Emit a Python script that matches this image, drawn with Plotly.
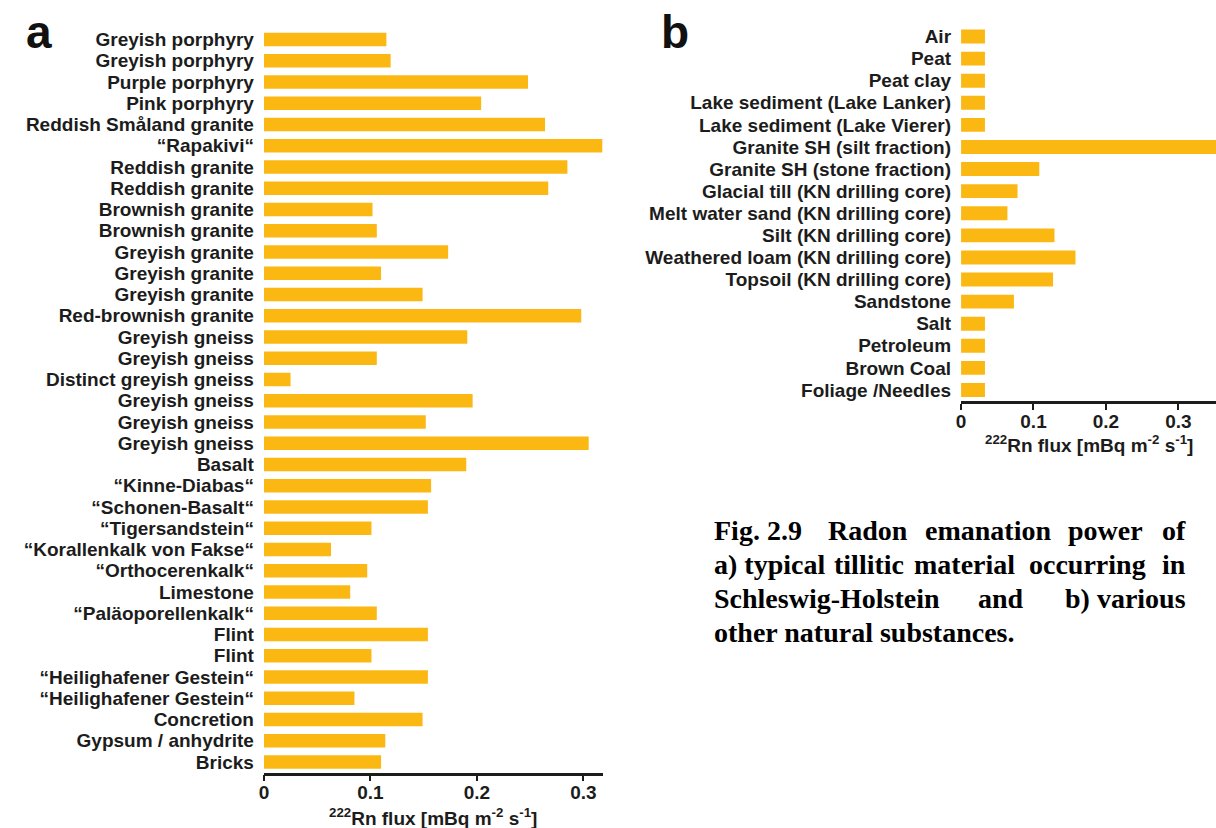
import plotly.graph_objects as go

# Panel a: tillitic rock samples (top to bottom)
rocks = [
    "Greyish porphyry", "Greyish porphyry", "Purple porphyry", "Pink porphyry",
    "Reddish Småland granite", "“Rapakivi“", "Reddish granite", "Reddish granite",
    "Brownish granite", "Brownish granite", "Greyish granite", "Greyish granite",
    "Greyish granite", "Red-brownish granite", "Greyish gneiss", "Greyish gneiss",
    "Distinct greyish gneiss", "Greyish gneiss", "Greyish gneiss", "Greyish gneiss",
    "Basalt", "“Kinne-Diabas“", "“Schonen-Basalt“", "“Tigersandstein“",
    "“Korallenkalk von Fakse“", "“Orthocerenkalk“", "Limestone", "“Paläoporellenkalk“",
    "Flint", "Flint", "“Heilighafener Gestein“", "“Heilighafener Gestein“",
    "Concretion", "Gypsum / anhydrite", "Bricks",
]
rock_flux = [
    0.115, 0.119, 0.248, 0.204, 0.264, 0.318, 0.285, 0.267,
    0.102, 0.106, 0.173, 0.110, 0.149, 0.298, 0.191, 0.106,
    0.025, 0.196, 0.152, 0.305, 0.190, 0.157, 0.154, 0.101,
    0.063, 0.097, 0.081, 0.106, 0.154, 0.101, 0.154, 0.085,
    0.149, 0.114, 0.110,
]

# Panel b: other natural substances (top to bottom)
substances = [
    "Air", "Peat", "Peat clay", "Lake sediment (Lake Lanker)",
    "Lake sediment (Lake Vierer)", "Granite SH (silt fraction)",
    "Granite SH (stone fraction)", "Glacial till (KN drilling core)",
    "Melt water sand (KN drilling core)", "Silt (KN drilling core)",
    "Weathered loam (KN drilling core)", "Topsoil (KN drilling core)",
    "Sandstone", "Salt", "Petroleum", "Brown Coal", "Foliage /Needles",
]
substance_flux = [
    0.033, 0.033, 0.033, 0.033, 0.033, 0.36, 0.108, 0.078,
    0.064, 0.129, 0.158, 0.127, 0.073, 0.033, 0.033, 0.033, 0.033,
]

ticks = [0, 0.1, 0.2, 0.3]
tick_text = ["0", "0.1", "0.2", "0.3"]

W, H = 1216, 828
BAR = "#FBB813"
INK = "#1c1c1c"
SANS = "Liberation Sans, Arial, sans-serif"
SERIF = "Liberation Serif, Times New Roman, serif"


def px_x(p):
    return p / W


def px_y(p):
    return 1 - p / H


rock_pos = list(range(len(rocks)))
sub_pos = list(range(len(substances)))

fig = go.Figure()
fig.add_trace(go.Bar(x=rock_flux, y=rock_pos, orientation="h", marker_color=BAR,
                     marker_line_width=0, xaxis="x", yaxis="y"))
fig.add_trace(go.Bar(x=substance_flux, y=sub_pos, orientation="h", marker_color=BAR,
                     marker_line_width=0, xaxis="x2", yaxis="y2"))

tick_font = dict(family=SANS, size=19, color=INK, weight="bold")
xcommon = dict(tickmode="array", tickvals=ticks, ticktext=tick_text, showline=True,
               linewidth=2.5, linecolor=INK, ticks="outside", ticklen=6, tickwidth=2,
               tickcolor=INK, showgrid=False, zeroline=False, tickfont=tick_font,
               ticklabelstandoff=-5, fixedrange=True)
ycommon = dict(tickmode="array", showline=False, ticks="", showgrid=False,
               zeroline=False, tickfont=tick_font, ticklabelstandoff=9, fixedrange=True)

fig.update_layout(
    width=W, height=H,
    margin=dict(l=0, r=0, t=0, b=0),
    paper_bgcolor="white", plot_bgcolor="white",
    showlegend=False, bargap=0.37,
    xaxis=dict(domain=[px_x(260), px_x(600)], range=[0, 0.318], anchor="y", **xcommon),
    yaxis=dict(domain=[px_y(772.6), px_y(28.9)], anchor="x",
               range=[len(rocks) - 0.5, -0.5], tickvals=rock_pos, ticktext=rocks,
               **ycommon),
    xaxis2=dict(domain=[px_x(960), 1.0], range=[0, 0.352], anchor="y2", **xcommon),
    yaxis2=dict(domain=[px_y(401), px_y(25.5)], anchor="x2",
                range=[len(substances) - 0.5, -0.5], tickvals=sub_pos,
                ticktext=substances, **ycommon),
)

title_txt = "<sup>222</sup>Rn flux [mBq m<sup>-2</sup> s<sup>-1</sup>]"
annotations = [
    dict(text=title_txt, x=px_x(430), y=px_y(817)),
    dict(text=title_txt, x=px_x(1088), y=px_y(444)),
]
for a in annotations:
    a.update(xref="paper", yref="paper", showarrow=False, xanchor="center",
             yanchor="middle", font=dict(family=SANS, size=19, color=INK, weight="bold"))

# Panel letters
for letter, cx, cy in [("a", 34, 32), ("b", 673, 32)]:
    annotations.append(dict(text=letter, x=px_x(cx), y=px_y(cy), xref="paper", yref="paper",
                            showarrow=False, xanchor="center", yanchor="middle",
                            font=dict(family=SANS, size=46, color="#111", weight="bold")))

# Figure caption, justified word by word
caption_lines = [
    (530, [("Fig.", 710, "left"), ("2.9", 783, "center"), ("Radon", 867, "center"),
           ("emanation", 987, "center"), ("power", 1105, "center"), ("of", 1188, "right")]),
    (564, [("a) typical", 710, "left"), ("tillitic", 868, "center"),
           ("material", 963, "center"), ("occurring", 1087, "center"), ("in", 1188, "right")]),
    (598, [("Schleswig-Holstein", 710, "left"), ("and", 1000, "center"),
           ("b) various", 1188, "right")]),
    (632, [("other natural substances.", 710, "left")]),
]
for ypix, words in caption_lines:
    for word, xpix, anchor in words:
        annotations.append(dict(text=word, x=px_x(xpix), y=px_y(ypix), xref="paper",
                                yref="paper", showarrow=False, xanchor=anchor,
                                yanchor="middle",
                                font=dict(family=SERIF, size=28, color="#000",
                                          weight="bold")))

fig.update_layout(annotations=annotations)
fig.write_html("out.html")
